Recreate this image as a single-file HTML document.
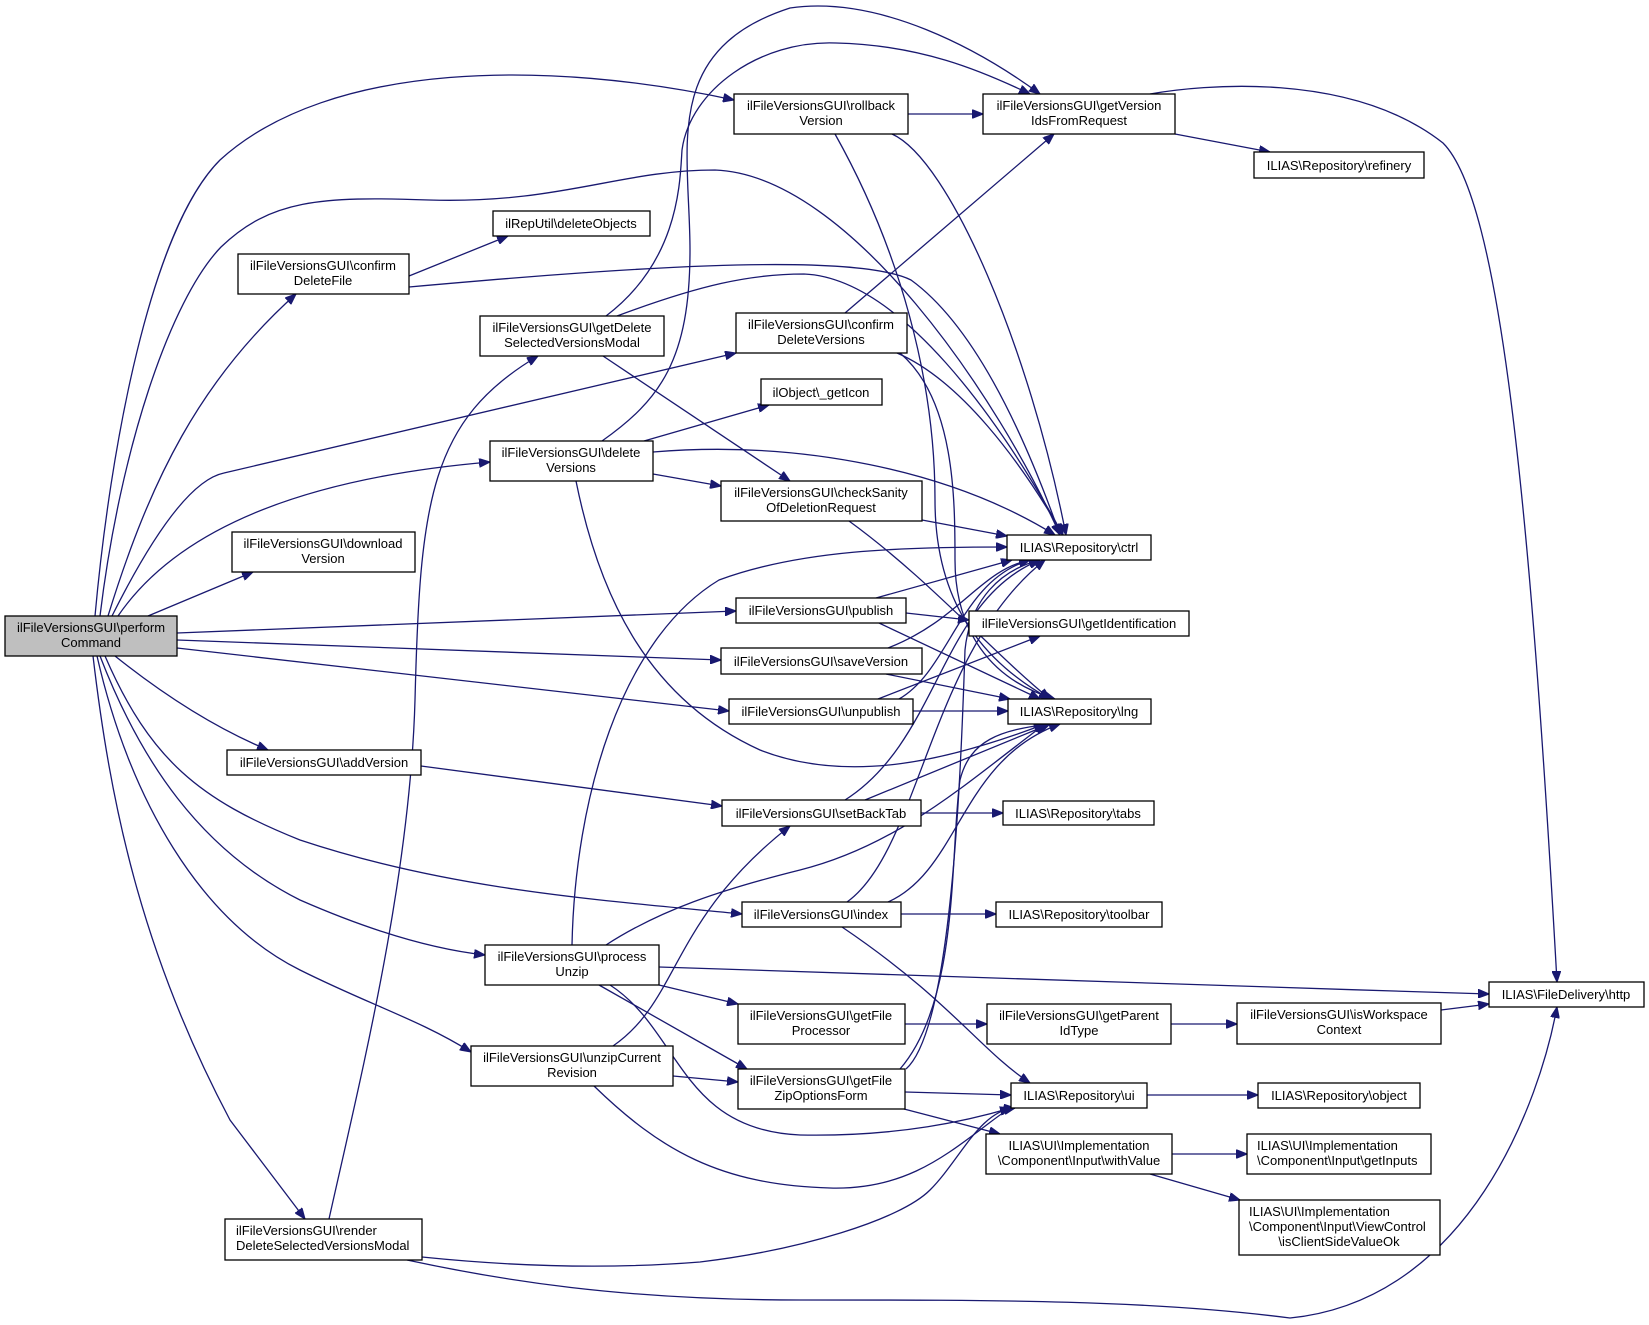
<!DOCTYPE html>
<html><head><meta charset="utf-8"><style>
html,body{margin:0;padding:0;background:#fff;}
svg{display:block;}
text{font-family:"Liberation Sans",Arial,sans-serif;font-size:13px;fill:#000;}
.e{fill:none;stroke:#191970;stroke-width:1.3;}
.n{fill:#fff;stroke:#000;stroke-width:1.3;}
</style></head><body>
<svg width="1649" height="1325" viewBox="0 0 1649 1325" xmlns="http://www.w3.org/2000/svg">
<defs>
<marker id="a" viewBox="0 0 10 8" refX="10" refY="4" markerWidth="11" markerHeight="9" markerUnits="userSpaceOnUse" orient="auto">
<path d="M0,0 L10,4 L0,8 z" fill="#191970" stroke="#191970"/>
</marker>
</defs>
<g class="edges" marker-end="url(#a)">
<path class="e" marker-end="url(#a)" d="M95,616 C110,450 150,230 220,160 C330,60 550,60 734,100"/>
<path class="e" marker-end="url(#a)" d="M100,616 C120,450 170,300 221,247 C270,200 320,196 429,200 C560,204 620,170 715,170 C850,175 1000,400 1060,535"/>
<path class="e" marker-end="url(#a)" d="M108,616 C150,480 200,380 296,294"/>
<path class="e" marker-end="url(#a)" d="M112,616 C150,540 190,480 224,473 L736,353"/>
<path class="e" marker-end="url(#a)" d="M118,616 C170,540 280,480 490,462"/>
<path class="e" marker-end="url(#a)" d="M148,616 L253,572"/>
<path class="e" marker-end="url(#a)" d="M177,633 L736,611"/>
<path class="e" marker-end="url(#a)" d="M177,640 L721,660"/>
<path class="e" marker-end="url(#a)" d="M177,648 L729,711"/>
<path class="e" marker-end="url(#a)" d="M115,656 C170,700 220,730 268,750"/>
<path class="e" marker-end="url(#a)" d="M105,656 C150,760 200,800 300,840 C450,890 600,900 742,914"/>
<path class="e" marker-end="url(#a)" d="M100,656 C140,760 200,850 300,900 C380,935 440,950 485,955"/>
<path class="e" marker-end="url(#a)" d="M97,656 C130,800 200,920 300,970 C370,1005 420,1020 471,1052"/>
<path class="e" marker-end="url(#a)" d="M93,656 C110,800 140,950 230,1120 L305,1219"/>
<path class="e" marker-end="url(#a)" d="M409,276 L508,236"/>
<path class="e" marker-end="url(#a)" d="M409,287 C600,270 850,250 911,280 C980,330 1030,450 1060,535"/>
<path class="e" marker-end="url(#a)" d="M606,316 C680,260 680,180 682,150 C690,90 760,40 836,43 C920,45 980,70 1030,94"/>
<path class="e" marker-end="url(#a)" d="M617,316 C700,285 750,274 804,274 C900,278 1000,420 1063,535"/>
<path class="e" marker-end="url(#a)" d="M603,356 L790,481"/>
<path class="e" marker-end="url(#a)" d="M845,313 L1054,134"/>
<path class="e" marker-end="url(#a)" d="M897,353 C960,380 1020,460 1063,535"/>
<path class="e" marker-end="url(#a)" d="M900,353 C955,400 955,500 955,560 C955,630 990,680 1055,699"/>
<path class="e" marker-end="url(#a)" d="M908,114 L983,114"/>
<path class="e" marker-end="url(#a)" d="M892,134 C950,160 1030,350 1066,535"/>
<path class="e" marker-end="url(#a)" d="M835,134 C900,250 935,380 935,500 C935,600 980,660 1050,699"/>
<path class="e" marker-end="url(#a)" d="M1175,134 L1270,152"/>
<path class="e" marker-end="url(#a)" d="M1150,94 C1200,85 1350,70 1443,143 C1500,200 1530,500 1557,982"/>
<path class="e" marker-end="url(#a)" d="M644,441 L769,405"/>
<path class="e" marker-end="url(#a)" d="M602,441 C660,400 690,360 690,250 C690,150 660,50 790,8 C880,-5 980,50 1040,94"/>
<path class="e" marker-end="url(#a)" d="M653,474 L721,486"/>
<path class="e" marker-end="url(#a)" d="M653,452 C800,440 950,470 1055,535"/>
<path class="e" marker-end="url(#a)" d="M576,481 C600,600 650,700 760,750 C850,785 950,760 1045,724"/>
<path class="e" marker-end="url(#a)" d="M922,520 L1007,536"/>
<path class="e" marker-end="url(#a)" d="M849,521 C930,580 990,650 1050,699"/>
<path class="e" marker-end="url(#a)" d="M572,945 C575,800 620,640 719,580 C800,550 900,547 1007,547"/>
<path class="e" marker-end="url(#a)" d="M876,598 L1012,560"/>
<path class="e" marker-end="url(#a)" d="M906,613 L969,620"/>
<path class="e" marker-end="url(#a)" d="M879,623 L1040,699"/>
<path class="e" marker-end="url(#a)" d="M888,648 C960,620 980,570 1030,560"/>
<path class="e" marker-end="url(#a)" d="M886,674 L1010,699"/>
<path class="e" marker-end="url(#a)" d="M878,699 L1040,636"/>
<path class="e" marker-end="url(#a)" d="M899,699 C950,670 960,580 1030,560"/>
<path class="e" marker-end="url(#a)" d="M913,711 L1008,711"/>
<path class="e" marker-end="url(#a)" d="M421,766 L722,806"/>
<path class="e" marker-end="url(#a)" d="M845,800 C940,740 940,600 1040,560"/>
<path class="e" marker-end="url(#a)" d="M865,800 L1050,724"/>
<path class="e" marker-end="url(#a)" d="M921,813 L1003,813"/>
<path class="e" marker-end="url(#a)" d="M847,902 C920,850 930,650 1045,560"/>
<path class="e" marker-end="url(#a)" d="M888,902 C960,870 960,760 1060,724"/>
<path class="e" marker-end="url(#a)" d="M901,914 L996,914"/>
<path class="e" marker-end="url(#a)" d="M842,927 C950,1000 980,1050 1030,1083"/>
<path class="e" marker-end="url(#a)" d="M659,967 C900,975 1200,985 1489,994"/>
<path class="e" marker-end="url(#a)" d="M659,985 L738,1004"/>
<path class="e" marker-end="url(#a)" d="M599,985 L747,1069"/>
<path class="e" marker-end="url(#a)" d="M610,985 C680,1030 680,1130 800,1135 C900,1137 970,1120 1011,1108"/>
<path class="e" marker-end="url(#a)" d="M606,945 C660,910 720,890 800,870 C900,845 970,780 1045,724"/>
<path class="e" marker-end="url(#a)" d="M613,1046 C680,1000 670,920 790,826"/>
<path class="e" marker-end="url(#a)" d="M673,1076 L738,1082"/>
<path class="e" marker-end="url(#a)" d="M594,1086 C660,1150 720,1185 830,1188 C900,1190 940,1160 980,1130 C1000,1115 1005,1110 1015,1108"/>
<path class="e" marker-end="url(#a)" d="M906,1069 C950,1030 960,800 965,650 C970,600 1000,570 1040,560"/>
<path class="e" marker-end="url(#a)" d="M900,1069 C960,1000 950,850 960,780 C970,740 1000,730 1050,724"/>
<path class="e" marker-end="url(#a)" d="M905,1092 L1011,1095"/>
<path class="e" marker-end="url(#a)" d="M904,1109 L1000,1134"/>
<path class="e" marker-end="url(#a)" d="M905,1024 L987,1024"/>
<path class="e" marker-end="url(#a)" d="M1171,1024 L1237,1024"/>
<path class="e" marker-end="url(#a)" d="M1441,1010 L1489,1004"/>
<path class="e" marker-end="url(#a)" d="M1147,1095 L1258,1095"/>
<path class="e" marker-end="url(#a)" d="M1172,1154 L1247,1154"/>
<path class="e" marker-end="url(#a)" d="M1150,1174 L1240,1200"/>
<path class="e" marker-end="url(#a)" d="M329,1219 C360,1080 410,880 415,700 C420,500 430,420 538,356"/>
<path class="e" marker-end="url(#a)" d="M422,1257 C500,1265 600,1270 700,1262 C800,1250 900,1220 930,1190 C960,1160 980,1110 1015,1108"/>
<path class="e" marker-end="url(#a)" d="M407,1260 C500,1280 620,1300 800,1300 C1000,1300 1150,1300 1290,1318 C1470,1300 1540,1100 1557,1007"/>
</g>
<g>
<rect x="5" y="616" width="172" height="40" fill="#bfbfbf" stroke="#000" stroke-width="1.3"/>
<text x="91" y="632" text-anchor="middle">ilFileVersionsGUI\perform</text><text x="91" y="647" text-anchor="middle">Command</text>

<rect class="n" x="734" y="94" width="174" height="40"/><text x="821" y="110" text-anchor="middle">ilFileVersionsGUI\rollback</text><text x="821" y="125" text-anchor="middle">Version</text>
<rect class="n" x="983" y="94" width="192" height="40"/><text x="1079" y="110" text-anchor="middle">ilFileVersionsGUI\getVersion</text><text x="1079" y="125" text-anchor="middle">IdsFromRequest</text>
<rect class="n" x="1254" y="152" width="170" height="26"/><text x="1339" y="170" text-anchor="middle">ILIAS\Repository\refinery</text>
<rect class="n" x="493" y="211" width="157" height="25"/><text x="571" y="228" text-anchor="middle">ilRepUtil\deleteObjects</text>
<rect class="n" x="238" y="254" width="171" height="40"/><text x="323" y="270" text-anchor="middle">ilFileVersionsGUI\confirm</text><text x="323" y="285" text-anchor="middle">DeleteFile</text>
<rect class="n" x="480" y="316" width="184" height="40"/><text x="572" y="332" text-anchor="middle">ilFileVersionsGUI\getDelete</text><text x="572" y="347" text-anchor="middle">SelectedVersionsModal</text>
<rect class="n" x="736" y="313" width="171" height="40"/><text x="821" y="329" text-anchor="middle">ilFileVersionsGUI\confirm</text><text x="821" y="344" text-anchor="middle">DeleteVersions</text>
<rect class="n" x="761" y="379" width="121" height="26"/><text x="821" y="397" text-anchor="middle">ilObject\_getIcon</text>
<rect class="n" x="490" y="441" width="163" height="40"/><text x="571" y="457" text-anchor="middle">ilFileVersionsGUI\delete</text><text x="571" y="472" text-anchor="middle">Versions</text>
<rect class="n" x="721" y="481" width="201" height="40"/><text x="821" y="497" text-anchor="middle">ilFileVersionsGUI\checkSanity</text><text x="821" y="512" text-anchor="middle">OfDeletionRequest</text>
<rect class="n" x="232" y="532" width="183" height="40"/><text x="323" y="548" text-anchor="middle">ilFileVersionsGUI\download</text><text x="323" y="563" text-anchor="middle">Version</text>
<rect class="n" x="1007" y="535" width="144" height="25"/><text x="1079" y="552" text-anchor="middle">ILIAS\Repository\ctrl</text>
<rect class="n" x="736" y="598" width="170" height="25"/><text x="821" y="615" text-anchor="middle">ilFileVersionsGUI\publish</text>
<rect class="n" x="969" y="611" width="220" height="25"/><text x="1079" y="628" text-anchor="middle">ilFileVersionsGUI\getIdentification</text>
<rect class="n" x="721" y="648" width="201" height="26"/><text x="821" y="666" text-anchor="middle">ilFileVersionsGUI\saveVersion</text>
<rect class="n" x="729" y="699" width="184" height="25"/><text x="821" y="716" text-anchor="middle">ilFileVersionsGUI\unpublish</text>
<rect class="n" x="1008" y="699" width="143" height="25"/><text x="1079" y="716" text-anchor="middle">ILIAS\Repository\lng</text>
<rect class="n" x="227" y="750" width="194" height="25"/><text x="324" y="767" text-anchor="middle">ilFileVersionsGUI\addVersion</text>
<rect class="n" x="722" y="800" width="199" height="26"/><text x="821" y="818" text-anchor="middle">ilFileVersionsGUI\setBackTab</text>
<rect class="n" x="1003" y="801" width="151" height="24"/><text x="1078" y="818" text-anchor="middle">ILIAS\Repository\tabs</text>
<rect class="n" x="742" y="902" width="159" height="25"/><text x="821" y="919" text-anchor="middle">ilFileVersionsGUI\index</text>
<rect class="n" x="996" y="902" width="166" height="25"/><text x="1079" y="919" text-anchor="middle">ILIAS\Repository\toolbar</text>
<rect class="n" x="485" y="945" width="174" height="40"/><text x="572" y="961" text-anchor="middle">ilFileVersionsGUI\process</text><text x="572" y="976" text-anchor="middle">Unzip</text>
<rect class="n" x="1489" y="982" width="155" height="25"/><text x="1566" y="999" text-anchor="middle">ILIAS\FileDelivery\http</text>
<rect class="n" x="738" y="1004" width="167" height="40"/><text x="821" y="1020" text-anchor="middle">ilFileVersionsGUI\getFile</text><text x="821" y="1035" text-anchor="middle">Processor</text>
<rect class="n" x="987" y="1004" width="184" height="40"/><text x="1079" y="1020" text-anchor="middle">ilFileVersionsGUI\getParent</text><text x="1079" y="1035" text-anchor="middle">IdType</text>
<rect class="n" x="1237" y="1003" width="204" height="41"/><text x="1339" y="1019" text-anchor="middle">ilFileVersionsGUI\isWorkspace</text><text x="1339" y="1034" text-anchor="middle">Context</text>
<rect class="n" x="471" y="1046" width="202" height="40"/><text x="572" y="1062" text-anchor="middle">ilFileVersionsGUI\unzipCurrent</text><text x="572" y="1077" text-anchor="middle">Revision</text>
<rect class="n" x="738" y="1069" width="167" height="40"/><text x="821" y="1085" text-anchor="middle">ilFileVersionsGUI\getFile</text><text x="821" y="1100" text-anchor="middle">ZipOptionsForm</text>
<rect class="n" x="1011" y="1083" width="136" height="25"/><text x="1079" y="1100" text-anchor="middle">ILIAS\Repository\ui</text>
<rect class="n" x="1258" y="1083" width="162" height="25"/><text x="1339" y="1100" text-anchor="middle">ILIAS\Repository\object</text>
<rect class="n" x="986" y="1134" width="186" height="40"/><text x="1079" y="1150" text-anchor="middle">ILIAS\UI\Implementation</text><text x="1079" y="1165" text-anchor="middle">\Component\Input\withValue</text>
<rect class="n" x="1247" y="1134" width="184" height="40"/><text x="1257" y="1150">ILIAS\UI\Implementation</text><text x="1257" y="1165">\Component\Input\getInputs</text>
<rect class="n" x="1239" y="1200" width="201" height="55"/><text x="1249" y="1216">ILIAS\UI\Implementation</text><text x="1249" y="1231">\Component\Input\ViewControl</text><text x="1339" y="1246" text-anchor="middle">\isClientSideValueOk</text>
<rect class="n" x="225" y="1219" width="197" height="41"/><text x="236" y="1235">ilFileVersionsGUI\render</text><text x="236" y="1250">DeleteSelectedVersionsModal</text>
</g>
</svg>
</body></html>
